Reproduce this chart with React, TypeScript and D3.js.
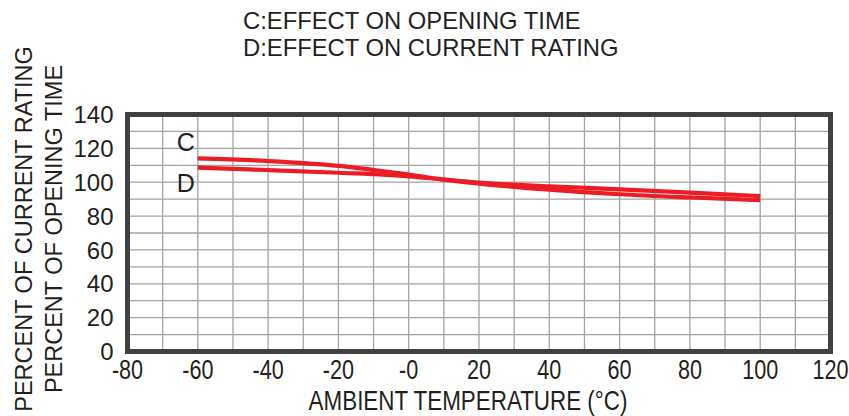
import React, { useEffect, useRef } from 'react';
import * as d3 from 'd3';

// temperature in degC, values in percent
const temps = [-60, -40, -20, 0, 10, 20, 40, 60, 80, 100];
const openingTime = [114.1, 112.5, 109.7, 104.5, 101.5, 99.2, 95.6, 92.9, 91.0, 89.4]; // C
const currentRating = [108.6, 107.2, 105.6, 103.5, 101.6, 99.8, 97.6, 95.8, 93.9, 91.8]; // D

const xTicks = [-80, -60, -40, -20, 0, 20, 40, 60, 80, 100, 120];
const xTickLabels = ['-80', '-60', '-40', '-20', '-0', '20', '40', '60', '80', '100', '120'];
const yTicks = [0, 20, 40, 60, 80, 100, 120, 140];

const titleLines = ['C:EFFECT ON OPENING TIME', 'D:EFFECT ON CURRENT RATING'];
const yTitles = ['PERCENT OF CURRENT RATING', 'PERCENT OF OPENING TIME'];
const xTitle = 'AMBIENT TEMPERATURE (°C)';

const width = 849;
const height = 416;
const margin = { top: 114.5, right: 18.5, bottom: 64.5, left: 127.5 };

const RED = '#ec1c24';
const INK = '#231f20';
const sans = '"Liberation Sans", Arial, Helvetica, sans-serif';
const squeeze = 0.8; // the axis numbers and title are set condensed

const App: React.FC = () => {
  const svgRef = useRef<SVGSVGElement>(null);

  useEffect(() => {
    const svg = d3.select(svgRef.current);
    svg.selectAll('*').remove();

    const innerWidth = width - margin.left - margin.right;
    const innerHeight = height - margin.top - margin.bottom;

    const x = d3.scaleLinear().domain([-80, 120]).range([0, innerWidth]);
    const y = d3.scaleLinear().domain([0, 140]).range([innerHeight, 0]);

    svg.append('rect').attr('width', width).attr('height', height).attr('fill', '#fff');

    // titles
    svg.append('g')
      .selectAll('text')
      .data(titleLines)
      .enter().append('text')
      .attr('x', 243)
      .attr('y', (d, i) => 29 + i * 27)
      .style('font-family', sans)
      .style('font-size', '23.8px')
      .attr('fill', INK)
      .text(d => d);

    // rotated y titles
    svg.append('g')
      .selectAll('text')
      .data(yTitles)
      .enter().append('text')
      .attr('transform', (d, i) => `translate(${32 + i * 30},229) rotate(-90)`)
      .attr('text-anchor', 'middle')
      .style('font-family', sans)
      .style('font-size', '23.5px')
      .attr('fill', INK)
      .text(d => d);

    const g = svg.append('g')
      .attr('transform', `translate(${margin.left},${margin.top})`);

    // grid
    g.append('g')
      .selectAll('line')
      .data(d3.range(-70, 120, 10))
      .enter().append('line')
      .attr('x1', d => x(d)).attr('x2', d => x(d))
      .attr('y1', 0).attr('y2', innerHeight)
      .attr('stroke', '#a3a3a3')
      .attr('stroke-width', 1.3);

    g.append('g')
      .selectAll('line')
      .data(d3.range(10, 140, 10))
      .enter().append('line')
      .attr('x1', 0).attr('x2', innerWidth)
      .attr('y1', d => y(d)).attr('y2', d => y(d))
      .attr('stroke', '#a3a3a3')
      .attr('stroke-width', 1.3);

    // curves
    const line = d3.line<number>()
      .x((d, i) => x(temps[i]))
      .y(d => y(d))
      .curve(d3.curveMonotoneX);

    [openingTime, currentRating].forEach(series => {
      g.append('path')
        .datum(series)
        .attr('d', line)
        .attr('fill', 'none')
        .attr('stroke', RED)
        .attr('stroke-width', 4.2);
    });

    // curve labels
    g.append('text')
      .attr('x', x(-66))
      .attr('y', y(118.5))
      .style('font-family', sans)
      .style('font-size', '25px')
      .attr('fill', INK)
      .text('C');
    g.append('text')
      .attr('x', x(-66))
      .attr('y', y(94.5))
      .style('font-family', sans)
      .style('font-size', '25px')
      .attr('fill', INK)
      .text('D');

    // frame
    g.append('rect')
      .attr('width', innerWidth)
      .attr('height', innerHeight)
      .attr('fill', 'none')
      .attr('stroke', '#404040')
      .attr('stroke-width', 5);

    // y tick labels
    g.append('g')
      .selectAll('text')
      .data(yTicks)
      .enter().append('text')
      .attr('x', -14)
      .attr('y', d => y(d))
      .attr('dy', '0.36em')
      .attr('text-anchor', 'end')
      .style('font-family', sans)
      .style('font-size', '24px')
      .attr('fill', INK)
      .text(d => String(d));

    // x tick labels
    g.append('g')
      .selectAll('text')
      .data(xTicks)
      .enter().append('text')
      .attr('transform', d => `translate(${x(d)},${innerHeight + 27}) scale(${squeeze},1)`)
      .attr('text-anchor', 'middle')
      .style('font-family', sans)
      .style('font-size', '27px')
      .attr('fill', INK)
      .text((d, i) => xTickLabels[i]);

    svg.append('text')
      .attr('transform', 'translate(468,410) scale(0.83,1)')
      .attr('text-anchor', 'middle')
      .style('font-family', sans)
      .style('font-size', '27px')
      .attr('fill', INK)
      .text(xTitle);
  }, []);

  return (
    <svg
      ref={svgRef}
      width={width}
      height={height}
      style={{ position: 'absolute', left: 0, top: 0, display: 'block' }}
    />
  );
};

export default App;
